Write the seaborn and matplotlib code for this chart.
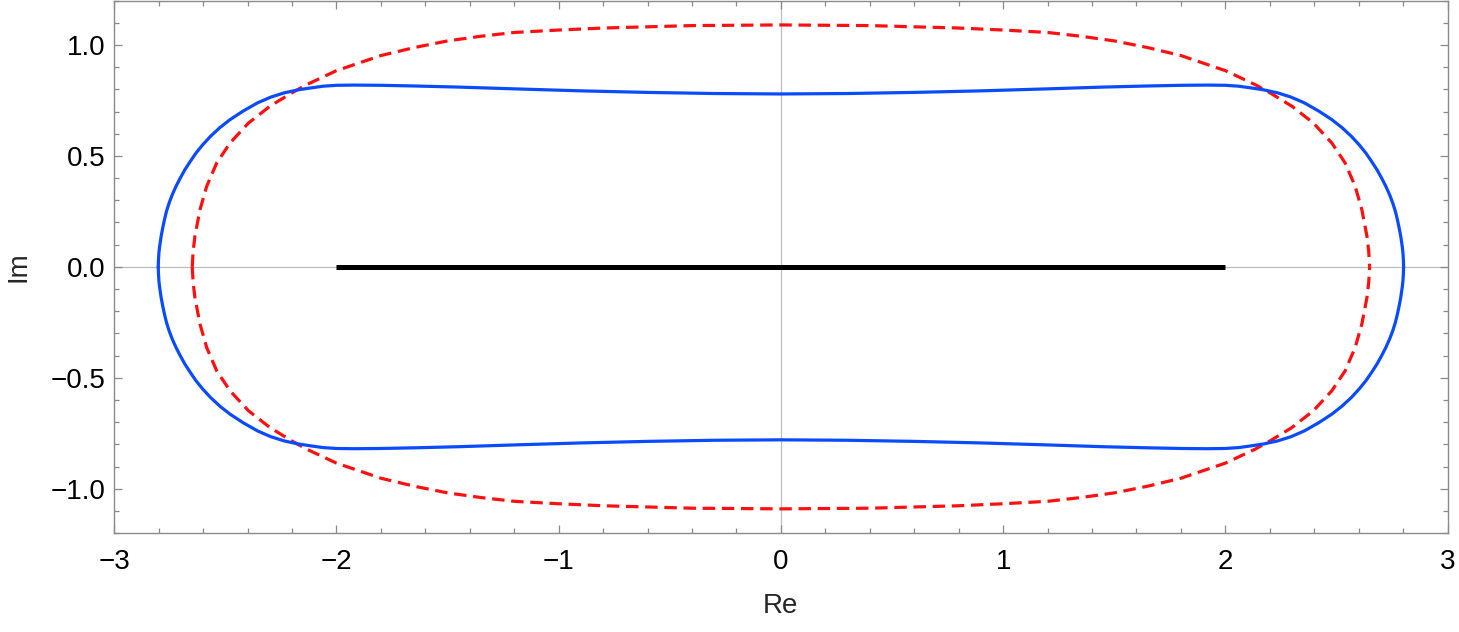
import matplotlib
matplotlib.use("Agg")
import matplotlib.pyplot as plt
import seaborn as sns
from matplotlib.ticker import MultipleLocator

# -----------------------------------
# Data
# -----------------------------------

# blue contour, x from left to right, upper and lower halves
blue_x = [-2.802, -2.801, -2.799, -2.796, -2.789, -2.782, -2.774, -2.765,
          -2.753, -2.739, -2.722, -2.703, -2.682, -2.658, -2.632, -2.602,
          -2.567, -2.524, -2.478, -2.420, -2.355, -2.295, -2.235, -2.170,
          -2.110, -2.060, -2.000, -1.920, -1.800, -1.650, -1.450, -1.200,
          -0.900, -0.600, -0.300, 0.000, 0.300, 0.600, 0.900, 1.200, 1.450,
          1.650, 1.800, 1.920, 2.000, 2.060, 2.110, 2.170, 2.235, 2.295,
          2.355, 2.420, 2.478, 2.524, 2.567, 2.602, 2.632, 2.658, 2.682,
          2.703, 2.722, 2.739, 2.753, 2.765, 2.774, 2.782, 2.789, 2.796,
          2.799, 2.801, 2.802]
blue_y_upper = [0.000, 0.030, 0.063, 0.090, 0.138, 0.175, 0.213, 0.250,
                0.288, 0.325, 0.363, 0.400, 0.438, 0.475, 0.513, 0.550,
                0.588, 0.628, 0.664, 0.702, 0.739, 0.765, 0.784, 0.798,
                0.807, 0.814, 0.818, 0.819, 0.818, 0.815, 0.810, 0.802,
                0.793, 0.786, 0.781, 0.779, 0.781, 0.786, 0.793, 0.802,
                0.810, 0.815, 0.818, 0.819, 0.818, 0.814, 0.807, 0.798,
                0.784, 0.765, 0.739, 0.702, 0.664, 0.628, 0.588, 0.550,
                0.513, 0.475, 0.438, 0.400, 0.363, 0.325, 0.288, 0.250,
                0.213, 0.175, 0.138, 0.090, 0.063, 0.030, 0.000]
blue_y_lower = [-0.000, -0.030, -0.063, -0.090, -0.138, -0.175, -0.213, -0.250,
                -0.288, -0.325, -0.363, -0.400, -0.438, -0.475, -0.513, -0.550,
                -0.588, -0.628, -0.664, -0.702, -0.739, -0.765, -0.784, -0.798,
                -0.807, -0.814, -0.818, -0.819, -0.818, -0.815, -0.810, -0.802,
                -0.793, -0.786, -0.781, -0.779, -0.781, -0.786, -0.793, -0.802,
                -0.810, -0.815, -0.818, -0.819, -0.818, -0.814, -0.807, -0.798,
                -0.784, -0.765, -0.739, -0.702, -0.664, -0.628, -0.588, -0.550,
                -0.513, -0.475, -0.438, -0.400, -0.363, -0.325, -0.288, -0.250,
                -0.213, -0.175, -0.138, -0.090, -0.063, -0.030, -0.000]

# red dashed contour
red_x = [-2.649, -2.645, -2.637, -2.614, -2.584, -2.539, -2.479, -2.396,
         -2.299, -2.201, -2.134, -2.000, -1.800, -1.650, -1.500, -1.350,
         -1.200, -1.000, -0.800, -0.400, 0.000, 0.400, 0.800, 1.000, 1.200,
         1.350, 1.500, 1.650, 1.800, 2.000, 2.134, 2.201, 2.299, 2.396,
         2.479, 2.539, 2.584, 2.614, 2.637, 2.645, 2.649]
red_y_upper = [0.000, 0.070, 0.138, 0.258, 0.363, 0.468, 0.558, 0.648,
               0.724, 0.784, 0.821, 0.884, 0.952, 0.988, 1.018, 1.039,
               1.056, 1.067, 1.076, 1.087, 1.090, 1.087, 1.076, 1.067, 1.056,
               1.039, 1.018, 0.988, 0.952, 0.884, 0.821, 0.784, 0.724, 0.648,
               0.558, 0.468, 0.363, 0.258, 0.138, 0.070, 0.000]
red_y_lower = [-0.000, -0.070, -0.138, -0.258, -0.363, -0.468, -0.558, -0.648,
               -0.724, -0.784, -0.821, -0.884, -0.952, -0.988, -1.018, -1.039,
               -1.056, -1.067, -1.076, -1.087, -1.090, -1.087, -1.076, -1.067,
               -1.056, -1.039, -1.018, -0.988, -0.952, -0.884, -0.821, -0.784,
               -0.724, -0.648, -0.558, -0.468, -0.363, -0.258, -0.138, -0.070,
               -0.000]

# black segment on the real axis
seg_x = [-2.0, 2.0]
seg_y = [0.0, 0.0]

# -----------------------------------
# Style
# -----------------------------------

sns.set_style("ticks")
plt.rcParams["font.family"] = ["Liberation Sans", "DejaVu Sans"]

frame_col = "#8a8a8a"
blue_col = "#0a4bff"
red_col = "#ff1010"

fig = plt.figure(figsize=(14.59, 6.32), dpi=100)
ax = fig.add_axes([0.0783, 0.1562, 0.9139, 0.8430])

ax.axhline(0, color="#bdbdbd", linewidth=0.9, zorder=0)
ax.axvline(0, color="#bdbdbd", linewidth=0.9, zorder=0)

# -----------------------------------
# Curves
# -----------------------------------

for yy in (red_y_upper, red_y_lower):
    sns.lineplot(x=red_x, y=yy, ax=ax, color=red_col, linewidth=2.3,
                 linestyle=(0, (3.9, 2.1)), estimator=None, sort=False)

for yy in (blue_y_upper, blue_y_lower):
    sns.lineplot(x=blue_x, y=yy, ax=ax, color=blue_col, linewidth=2.3,
                 estimator=None, sort=False, solid_capstyle="round",
                 solid_joinstyle="round")

sns.lineplot(x=seg_x, y=seg_y, ax=ax, color="black", linewidth=3.6,
             estimator=None, sort=False, solid_capstyle="butt")

# -----------------------------------
# Axes
# -----------------------------------

ax.set_xlim(-3, 3)
ax.set_ylim(-1.2, 1.2)

ax.xaxis.set_major_locator(MultipleLocator(1))
ax.xaxis.set_minor_locator(MultipleLocator(0.2))
ax.yaxis.set_major_locator(MultipleLocator(0.5))
ax.yaxis.set_minor_locator(MultipleLocator(0.1))

ax.tick_params(which="both", direction="in", top=True, right=True,
               color=frame_col, width=0.9, labelsize=20, labelcolor="black")
ax.tick_params(which="major", length=6)
ax.tick_params(which="minor", length=3.5)
ax.tick_params(axis="x", which="major", pad=11)
ax.tick_params(axis="y", which="major", pad=6)

for sp in ax.spines.values():
    sp.set_color(frame_col)
    sp.set_linewidth(1.0)

ax.set_xlabel("Re", fontsize=20, labelpad=13)
ax.set_ylabel("Im", fontsize=20, labelpad=14)

fig.savefig("out.png", dpi=100)
plt.close()
